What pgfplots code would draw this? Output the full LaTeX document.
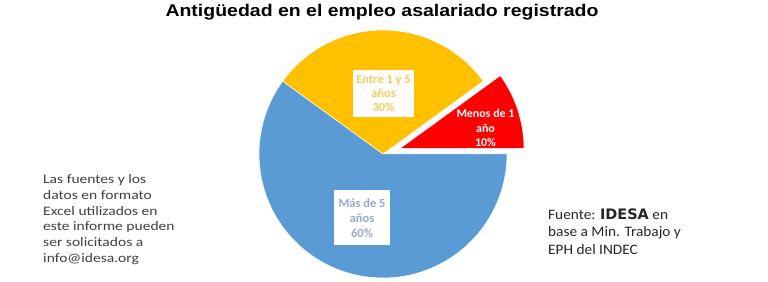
\documentclass[border=0pt]{standalone}
\usepackage{pgfplots}
\pgfplotsset{compat=1.18}
\usepgfplotslibrary{polar}
\usepackage{fontspec}
\setmainfont{Carlito}
\newfontfamily\arialwide[FakeStretch=1.15]{Liberation Sans}
\newfontfamily\leftfont[FakeStretch=1.2]{Carlito}
\newfontfamily\rightfont[FakeStretch=1.06]{Carlito}
\newfontfamily\heavy{DejaVu Sans}
\definecolor{pieblue}{HTML}{5B9BD5}
\definecolor{pieyellow}{HTML}{FFC000}
\definecolor{piered}{HTML}{FF0000}
\definecolor{bluetxt}{HTML}{97A9CC}
\definecolor{yellowtxt}{HTML}{F3CD5B}
\definecolor{graytxt}{HTML}{404040}
\begin{document}
\begin{tikzpicture}
\useasboundingbox (0,0) rectangle (768bp,282bp);
\begin{axis}[at={(259bp,4bp)}, anchor=south west, scale only axis,
  width=248bp, height=248bp, xmin=-1, xmax=1, ymin=-1, ymax=1,
  hide axis, clip=false]
% Más de 5 años: 60% (144 to 360 deg)
\addplot[fill=pieblue, draw=white, line width=0.5bp, data cs=polar] coordinates {
(0,0) (144,1) (148,1) (152,1) (156,1) (160,1) (164,1) (168,1) (172,1) (176,1) (180,1)
(184,1) (188,1) (192,1) (196,1) (200,1) (204,1) (208,1) (212,1) (216,1) (220,1)
(224,1) (228,1) (232,1) (236,1) (240,1) (244,1) (248,1) (252,1) (256,1) (260,1)
(264,1) (268,1) (272,1) (276,1) (280,1) (284,1) (288,1) (292,1) (296,1) (300,1)
(304,1) (308,1) (312,1) (316,1) (320,1) (324,1) (328,1) (332,1) (336,1) (340,1)
(344,1) (348,1) (352,1) (356,1) (360,1) (0,0)};
% Entre 1 y 5 años: 30% (36 to 144 deg)
\addplot[fill=pieyellow, draw=white, line width=0.5bp, data cs=polar] coordinates {
(0,0) (36,1) (40,1) (44,1) (48,1) (52,1) (56,1) (60,1) (64,1) (68,1) (72,1)
(76,1) (80,1) (84,1) (88,1) (92,1) (96,1) (100,1) (104,1) (108,1) (112,1)
(116,1) (120,1) (124,1) (128,1) (132,1) (136,1) (140,1) (144,1) (0,0)};
% Menos de 1 año: 10% (0 to 36 deg), exploded
\addplot[fill=piered, draw=white, line width=0.5bp, data cs=polar, xshift=17bp, yshift=5.5bp] coordinates {
(0,0) (0,1) (4,1) (8,1) (12,1) (16,1) (20,1) (24,1) (28,1) (32,1) (36,1) (0,0)};
\end{axis}
% title
\node[font=\arialwide\bfseries\fontsize{17}{20}\selectfont] at (382bp,270bp) {Antigüedad en el empleo asalariado registrado};
% pie labels
\node[fill=white, inner sep=0pt, minimum width=61bp, minimum height=47bp, align=center,
  text=yellowtxt, font=\bfseries\fontsize{12.5}{14.5}\selectfont] at (383.5bp,188.5bp) {Entre 1 y 5\\años\\30\%};
\node[fill=white, inner sep=0pt, minimum width=56bp, minimum height=55bp, align=center,
  text=bluetxt, font=\bfseries\fontsize{12.5}{15}\selectfont] at (362bp,64bp) {Más de 5\\años\\60\%};
\node[inner sep=0pt, align=center, text=white, font=\bfseries\fontsize{12}{14.5}\selectfont] at (485.5bp,154bp) {Menos de 1\\año\\10\%};
% left note
\begin{scope}[every node/.style={anchor=base west, inner sep=0pt, text=graytxt, font=\leftfont\fontsize{13}{15}\selectfont}]
\node at (43bp,98bp) {Las fuentes y los};
\node at (43bp,82.3bp) {datos en formato};
\node at (43bp,66.7bp) {Excel utilizados en};
\node at (43bp,51bp) {este informe pueden};
\node at (43bp,35.3bp) {ser solicitados a};
\node at (43bp,19.7bp) {info@idesa.org};
\end{scope}
% right note
\begin{scope}[every node/.style={anchor=base west, inner sep=0pt, text=black!85, font=\rightfont\fontsize{14.5}{17}\selectfont}]
\node at (548bp,62bp) {Fuente: {\heavy\bfseries IDESA} en};
\node at (548bp,45.3bp) {base a Min. Trabajo y};
\node at (548bp,28bp) {EPH del INDEC};
\end{scope}
\end{tikzpicture}
\end{document}
